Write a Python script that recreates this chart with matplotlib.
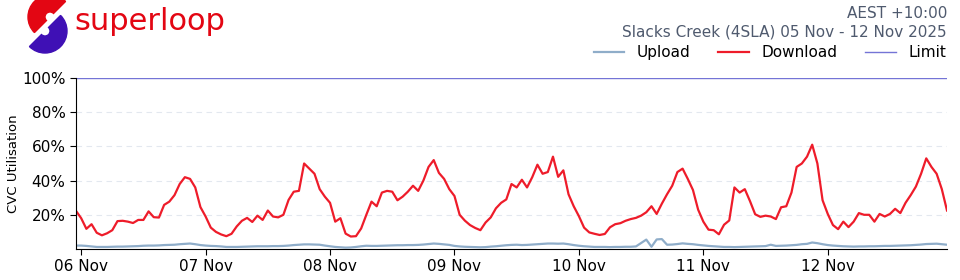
import numpy as np
import pandas as pd

import matplotlib
matplotlib.use('Agg')

import matplotlib.pyplot as plt
import matplotlib.dates as mdates
from matplotlib.patches import Wedge

# hourly CVC utilisation (%), 05 Nov 23:00 -> 12 Nov 23:00 (AEST)
start_time = '2025-11-05 23:00'

download = [
    22.3, 18, 11.8, 14.5, 9.5, 8.0, 9.2, 11, 16.3, 16.5, 16, 15.2, 17, 17, 22, 18.6,
    18.4, 25.8, 27.7, 31.5, 38, 42, 41, 36, 24.5, 19, 12.5, 10, 8.5,
    7.5, 8.9, 13.2, 16.5, 18.2, 15.8, 19.5, 17, 22.5, 19, 18.5, 20, 28.7, 33.5, 34,
    50, 47, 44, 35, 30.6, 27, 16, 18, 9, 7.3, 7.5, 12, 20,
    27.7, 25, 33, 34, 33.5, 28.5, 30.6, 33.5, 37, 34, 40, 48, 52, 44.5, 41, 35,
    31, 20, 16.6, 14, 12.3, 11, 15.5, 18.5, 23.8, 27, 29, 38, 36,
    40.5, 36, 42, 49.3, 44, 45, 54, 42.2, 46, 32, 25, 19.2, 12.5, 9.7, 8.9, 8.2,
    8.8, 12.7, 14.5, 15.1, 16.5, 17.5, 18.2, 19.5, 21.5, 25, 20.5, 26.5,
    32, 37, 45, 47, 41, 34.5, 23, 16, 11.3, 11, 8.6, 14.2, 16.7, 36, 33, 35,
    28, 20.3, 18.8, 19.5, 19, 17.5, 24.4, 25, 33, 48, 50, 54,
    61, 50, 28.5, 20.5, 14, 11.6, 16, 12.8, 16, 21, 20, 20, 16, 20.5, 19, 20.5,
    23.5, 21, 27, 31.5, 36.5, 44, 53, 48, 44, 35, 22.5,
]

upload = [
    2.0, 2.0, 1.8, 1.5, 1.2, 1.2, 1.2, 1.3, 1.4, 1.4, 1.5, 1.6, 1.7, 1.9, 2.0, 2.0,
    2.1, 2.3, 2.4, 2.5, 2.8, 3.0, 3.2, 2.8, 2.3, 2.0, 1.8, 1.7, 1.5,
    1.2, 1.2, 1.2, 1.3, 1.4, 1.5, 1.6, 1.6, 1.6, 1.7, 1.7, 1.8, 2.0, 2.3, 2.5,
    2.7, 2.7, 2.6, 2.5, 2.0, 1.6, 1.2, 1.0, 0.8, 0.9, 1.2, 1.6, 1.9,
    1.8, 1.8, 1.9, 2.0, 2.1, 2.2, 2.2, 2.3, 2.3, 2.4, 2.6, 2.9, 3.2, 3.0, 2.7, 2.4,
    1.8, 1.5, 1.3, 1.2, 1.1, 1.0, 1.1, 1.4, 1.6, 1.9, 2.2, 2.4, 2.5,
    2.3, 2.4, 2.6, 2.8, 3.0, 3.2, 3.2, 3.1, 3.2, 2.8, 2.3, 1.9, 1.6, 1.4, 1.2, 1.2,
    1.2, 1.1, 1.2, 1.2, 1.3, 1.3, 1.5, 3.5, 5.5, 1.3, 5.6, 5.8,
    2.5, 2.6, 2.9, 3.3, 3.0, 2.8, 2.4, 2.1, 1.8, 1.6, 1.4, 1.2, 1.2, 1.1, 1.2, 1.3,
    1.4, 1.5, 1.6, 1.7, 2.5, 1.8, 1.9, 2.0, 2.2, 2.4, 2.8, 3.0,
    3.8, 3.4, 2.8, 2.3, 2.0, 1.8, 1.6, 1.5, 1.4, 1.5, 1.5, 1.6, 1.6, 1.7, 1.8, 1.8,
    1.9, 2.0, 2.1, 2.2, 2.4, 2.6, 2.9, 3.0, 3.1, 2.8, 2.5,
]

limit = 100
y_ticks = [20, 40, 60, 80, 100]

site_label = 'Slacks Creek (4SLA) 05 Nov - 12 Nov 2025'
tz_label = 'AEST +10:00'


def main():
    times = pd.date_range(start_time, periods=len(download), freq='h')

    fig = plt.figure(figsize=(9.6, 2.8), dpi=100)
    ax = fig.add_axes([76 / 960, 1 - 249 / 280, (947 - 76) / 960, (249 - 78) / 280])

    ax.plot(times, upload, color='#8fadc9', lw=1.6, label='Upload')
    ax.plot(times, download, color='#ee1c2a', lw=1.6, label='Download')
    ax.axhline(limit, color='#7474d6', lw=1.0, label='Limit')

    ax.set_xlim(times[0], times[-1])
    ax.set_ylim(0, 100)
    ax.set_yticks(y_ticks)
    ax.set_yticklabels(['%d%%' % t for t in y_ticks])
    for t in y_ticks[:-1]:
        ax.axhline(t, color='#e3e8ef', lw=0.8, ls=(0, (5, 4)), zorder=0)

    ax.xaxis.set_major_locator(mdates.DayLocator())
    ax.xaxis.set_major_formatter(mdates.DateFormatter('%d %b'))
    ax.tick_params(labelsize=11, length=4)
    ax.set_ylabel('CVC Utilisation', fontsize=9.5)
    ax.yaxis.set_label_coords(-0.064, 0.5)

    ax.spines['top'].set_visible(False)
    ax.spines['right'].set_visible(False)

    fig.legend(loc='upper right', bbox_to_anchor=(946 / 960, 1 - 45 / 280), ncol=3,
               frameon=False, fontsize=11, handlelength=2.0, handletextpad=0.8,
               columnspacing=1.85, borderpad=0, borderaxespad=0)

    fig.text(947 / 960, 1 - 14 / 280, tz_label, ha='right', va='center',
             fontsize=11, color='#4f5a6e')
    fig.text(947 / 960, 1 - 32 / 280, site_label, ha='right', va='center',
             fontsize=11, color='#4f5a6e')

    # logo
    lax = fig.add_axes([0, 0, 1, 1], zorder=-1)
    lax.set_xlim(0, 960)
    lax.set_ylim(280, 0)
    lax.axis('off')
    lax.add_patch(Wedge((50, 17), 22, 135, 315, width=17, color='#e30613'))
    lax.add_patch(Wedge((45, 31), 22, -45, 135, width=17, color='#3f10b5'))
    fig.text(74 / 960, 1 - 22 / 280, 'superloop', ha='left', va='center',
             fontsize=22, color='#e30613')

    plt.savefig('out.png', dpi=100)


if __name__ == '__main__':
    main()
